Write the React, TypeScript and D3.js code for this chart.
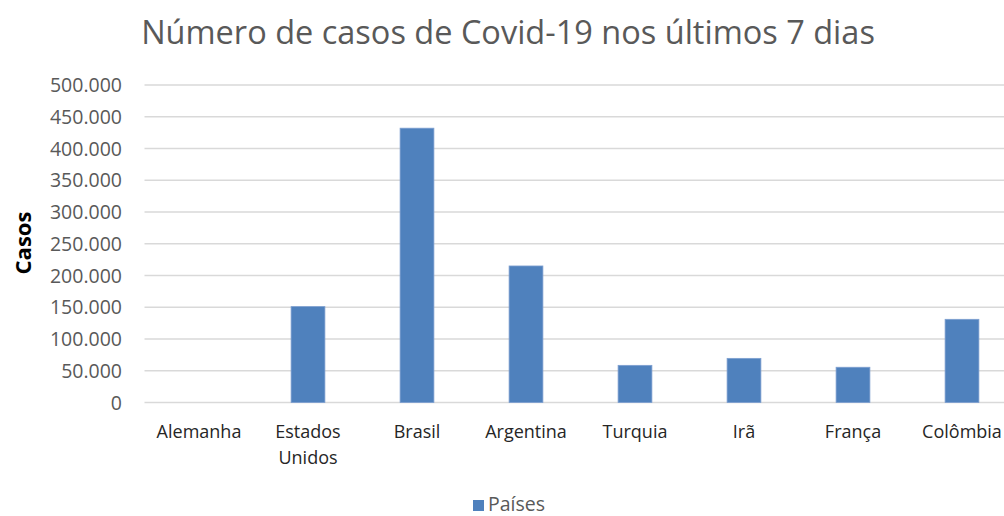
import React from "react";
import * as d3 from "d3";

const categories = ["Alemanha", "Estados Unidos", "Brasil", "Argentina", "Turquia", "Irã", "França", "Colômbia"];
const values = [0, 151000, 432000, 215000, 58500, 69500, 55500, 131000];
const yTicks = [0, 50000, 100000, 150000, 200000, 250000, 300000, 350000, 400000, 450000, 500000];
const title = "Número de casos de Covid-19 nos últimos 7 dias";
const yTitle = "Casos";
const seriesName = "Países";

const W = 1004, H = 516;
const left = 144.5, plotTop = 85, plotBottom = 402.5;
const font = "'Open Sans', 'Noto Sans', sans-serif";

export default function App() {
  const x = d3.scaleBand<string>().domain(categories).range([left, left + 109 * 8]).paddingInner(0.69).paddingOuter(0.345);
  const y = d3.scaleLinear().domain([0, 500000]).range([plotBottom, plotTop]);
  const fmt = (v: number) => d3.format(",")(v).replace(/,/g, ".");
  return (
    <svg width={W} height={H} style={{ position: "absolute", left: 0, top: 0, background: "#fff" }}>
      <text x={508} y={44} textAnchor="middle" fontFamily={font} fontSize={32.5} fill="#595959">{title}</text>
      {yTicks.map(t => (
        <g key={t}>
          <line x1={left} x2={W} y1={y(t)} y2={y(t)} stroke="#d9d9d9" strokeWidth={1.5} />
          <text x={122} y={y(t)} dy="0.36em" textAnchor="end" fontFamily={font} fontSize={19.5} fill="#595959">{fmt(t)}</text>
        </g>
      ))}
      {categories.map((c, i) => (
        <rect key={c} x={x(c)} y={y(values[i])} width={x.bandwidth()} height={plotBottom - y(values[i])} fill="#4f81bd" stroke="#7d9fd0" strokeWidth={0.8} />
      ))}
      {categories.map((c) => {
        const cx = (x(c) as number) + x.bandwidth() / 2;
        const words = c === "Estados Unidos" ? ["Estados", "Unidos"] : [c];
        return (
          <text key={c} x={cx} y={438} textAnchor="middle" fontFamily={font} fontSize={18} fill="#262626">
            {words.map((w, j) => <tspan key={j} x={cx} dy={j === 0 ? 0 : 26}>{w}</tspan>)}
          </text>
        );
      })}
      <text transform={`translate(31,243) rotate(-90)`} textAnchor="middle" fontFamily={font} fontSize={22} fontWeight="bold" fill="#000">{yTitle}</text>
      <rect x={473} y={500} width={11} height={11} fill="#4f81bd" />
      <text x={488} y={511} fontFamily={font} fontSize={19.5} fill="#595959">{seriesName}</text>
    </svg>
  );
}
